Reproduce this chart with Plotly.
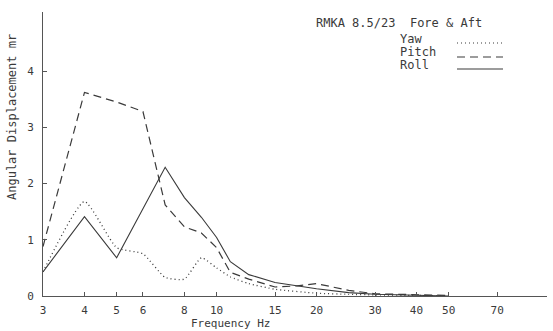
import plotly.graph_objects as go

# ---- data ----
yaw_freq = [3, 4, 5, 6, 7, 8, 9, 10, 11, 12.5, 15, 20, 25, 30, 40, 50]
yaw_vals = [0.43, 1.68, 0.86, 0.75, 0.33, 0.30, 0.68, 0.50, 0.34, 0.22, 0.12, 0.05, 0.03, 0.02, 0.01, 0.0]

pitch_freq = [3, 4, 5, 6, 7, 8, 9, 10, 11, 12.5, 15, 17.5, 20, 25, 30, 40, 50]
pitch_vals = [0.88, 3.62, 3.45, 3.28, 1.62, 1.23, 1.12, 0.86, 0.42, 0.30, 0.16, 0.18, 0.22, 0.10, 0.04, 0.02, 0.01]

roll_freq = [3, 4, 5, 6, 7, 8, 9, 10, 11, 12.5, 15, 20, 25, 30, 40, 50]
roll_vals = [0.43, 1.41, 0.68, 1.55, 2.29, 1.75, 1.40, 1.04, 0.61, 0.38, 0.24, 0.13, 0.06, 0.03, 0.01, 0.0]

x_ticks = [3, 4, 5, 6, 8, 10, 15, 20, 30, 40, 50, 70]
y_ticks = [0, 1, 2, 3, 4]

title_text = "RMKA 8.5/23  Fore &amp; Aft"
series_names = ["Yaw", "Pitch", "Roll"]

INK = "#3a3a3a"
FONT = "DejaVu Sans Mono"

fig = go.Figure()
fig.add_trace(go.Scatter(x=yaw_freq, y=yaw_vals, mode="lines", name="Yaw",
                         line=dict(color=INK, width=1.3, dash="1px,3px", shape="spline", smoothing=0.5)))
fig.add_trace(go.Scatter(x=pitch_freq, y=pitch_vals, mode="lines", name="Pitch",
                         line=dict(color=INK, width=1.2, dash="8px,5px")))
fig.add_trace(go.Scatter(x=roll_freq, y=roll_vals, mode="lines", name="Roll",
                         line=dict(color=INK, width=1.1)))

import math
fig.update_layout(
    width=553, height=331,
    margin=dict(l=43, r=6, t=12, b=35),
    paper_bgcolor="white", plot_bgcolor="white",
    showlegend=False,
    font=dict(family=FONT, color=INK, size=11),
    xaxis=dict(type="log", range=[math.log10(3), math.log10(3) + 504 / 332],
               tickvals=x_ticks, ticktext=[str(v) for v in x_ticks],
               ticks="inside", ticklen=4, tickcolor="#555",
               showline=True, linecolor="#555", linewidth=1,
               showgrid=False, zeroline=False, ticklabelstandoff=4,
               tickfont=dict(size=11, family=FONT, color=INK)),
    yaxis=dict(range=[0, 5.05], tickvals=y_ticks, ticktext=[str(v) for v in y_ticks],
               ticks="inside", ticklen=4, tickcolor="#555",
               showline=True, linecolor="#555", linewidth=1,
               showgrid=False, zeroline=False, ticklabelstandoff=6,
               tickfont=dict(size=11, family=FONT, color=INK)),
)

def px_x(p):
    return (p - 43) / 504

def px_y(p):
    return (296 - p) / 284

annos = [
    dict(text="Frequency Hz", x=px_x(230), y=px_y(323), xanchor="center", yanchor="middle",
         font=dict(size=11)),
    dict(text="Angular Displacement mr", x=px_x(12), y=px_y(117), xanchor="center", yanchor="middle",
         textangle=-90, font=dict(size=12)),
    dict(text=title_text, x=px_x(314), y=px_y(23), xanchor="left", yanchor="middle",
         font=dict(size=12)),
]
label_y = [39, 52, 65]
for name, ly in zip(series_names, label_y):
    annos.append(dict(text=name, x=px_x(398), y=px_y(ly), xanchor="left", yanchor="middle",
                      font=dict(size=12)))
for a in annos:
    a.update(xref="paper", yref="paper", showarrow=False)
fig.update_layout(annotations=annos)

sample_y = [43, 57, 69]
dashes = ["1px,3px", "8px,5px", "solid"]
for sy, d in zip(sample_y, dashes):
    fig.add_shape(type="line", xref="paper", yref="paper",
                  x0=px_x(457), x1=px_x(503), y0=px_y(sy), y1=px_y(sy),
                  line=dict(color=INK, width=1.2, dash=d))

fig.write_html("out.html")
